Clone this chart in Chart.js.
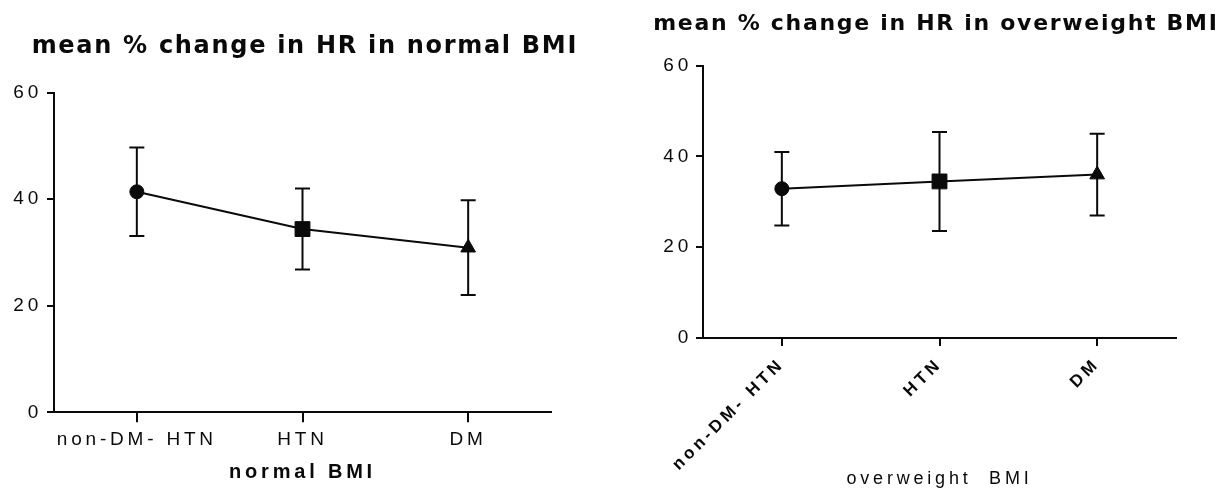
<!DOCTYPE html>
<html>
<head>
<meta charset="utf-8">
<script src="https://cdn.jsdelivr.net/npm/chart.js@4.4.1/dist/chart.umd.min.js"></script>
<style>
  html, body { margin: 0; padding: 0; background: #fff; }
  #page { position: relative; width: 1230px; height: 490px; overflow: hidden; }
  .panel { position: absolute; top: 0; }
</style>
</head>
<body>
<div id="page">
  <div class="panel" style="left:0"><canvas id="normalChart" width="608" height="490"></canvas></div>
  <div class="panel" style="left:640px"><canvas id="overChart" width="590" height="490"></canvas></div>
</div>
<script>
// data (mean % change in HR, +/- SD)
const categories = ['non-DM- HTN', 'HTN', 'DM'];
const normalMean = [41.4, 34.4, 30.9];
const normalSD = [8.3, 7.6, 8.9];
const overMean = [32.9, 34.5, 36.0];
const overSD = [8.1, 10.9, 9.0];
const yTicks = [0, 20, 40, 60];
const markerStyles = ['circle', 'rect', 'triangle'];
const markerSizes = [7, 10.5, 8.5];

const INK = '#0a0a0a';
const FONT = '"Liberation Sans", Arial, sans-serif';
const TITLE_FONT = '"DejaVu Sans", sans-serif';

// old-style wide lettering for axis texts
const spacing = {
  id: 'spacing',
  beforeDraw(chart, args, opts) { chart.ctx.letterSpacing = opts.px + 'px'; },
  afterDraw(chart) { chart.ctx.letterSpacing = '0px'; }
};

// panel heading, centred on the whole canvas (not the padded box)
const panelTitle = {
  id: 'panelTitle',
  afterDraw(chart, args, opts) {
    const ctx = chart.ctx;
    ctx.save();
    ctx.letterSpacing = opts.spacing + 'px';
    ctx.font = 'bold ' + opts.size + 'px ' + TITLE_FONT;
    ctx.fillStyle = INK;
    ctx.textAlign = 'center';
    ctx.textBaseline = 'middle';
    ctx.fillText(opts.text, chart.width / 2 + opts.spacing / 2, opts.y);
    ctx.restore();
  }
};

// vertical SD bars with caps, drawn under the markers
const errorBars = {
  id: 'errorBars',
  beforeDatasetsDraw(chart) {
    const ctx = chart.ctx;
    const x = chart.scales.x, y = chart.scales.y;
    const ds = chart.data.datasets[0];
    ctx.save();
    ctx.strokeStyle = INK;
    ctx.lineWidth = 2;
    ds.data.forEach((m, i) => {
      const px = x.getPixelForValue(i);
      const top = y.getPixelForValue(m + ds.sd[i]);
      const bot = y.getPixelForValue(m - ds.sd[i]);
      ctx.beginPath();
      ctx.moveTo(px, top); ctx.lineTo(px, bot);
      ctx.moveTo(px - 7.5, top); ctx.lineTo(px + 7.5, top);
      ctx.moveTo(px - 7.5, bot); ctx.lineTo(px + 7.5, bot);
      ctx.stroke();
    });
    ctx.restore();
  }
};

function makeChart(id, o) {
  return new Chart(document.getElementById(id), {
    type: 'line',
    data: {
      labels: categories,
      datasets: [{
        data: o.mean,
        sd: o.sd,
        borderColor: INK,
        borderWidth: 2,
        tension: 0,
        pointStyle: markerStyles,
        pointRadius: markerSizes,
        pointBackgroundColor: INK,
        pointBorderColor: INK,
        pointBorderWidth: 1
      }]
    },
    options: {
      responsive: false,
      animation: false,
      layout: { padding: o.padding },
      plugins: {
        legend: { display: false },
        tooltip: { enabled: false },
        title: { display: false },
        spacing: { px: o.letter },
        panelTitle: { text: o.title, size: o.titleSize, y: o.titleY, spacing: 1.7 }
      },
      scales: {
        x: {
          type: 'category',
          offset: true,
          grid: { display: true, offset: false, drawOnChartArea: false, drawTicks: true, tickLength: o.xTickLen, color: INK, lineWidth: 2 },
          border: { display: true, color: INK, width: 2 },
          ticks: { color: INK, font: o.xTickFont, padding: o.xTickPad, minRotation: o.rot, maxRotation: o.rot, autoSkip: false },
          title: { display: true, text: o.xTitle, color: INK, font: o.xTitleFont, padding: { top: 0, bottom: o.xTitlePad } },
          afterFit: s => { s.height = o.xHeight; }
        },
        y: {
          min: 0,
          max: 60,
          afterBuildTicks: s => { s.ticks = yTicks.map(v => ({ value: v })); },
          grid: { display: true, drawOnChartArea: false, drawTicks: true, tickLength: 7, color: INK, lineWidth: 2 },
          border: { display: true, color: INK, width: 2 },
          ticks: { color: INK, font: { family: FONT, size: 19 }, padding: o.yTickPad },
          afterFit: s => { s.width = o.yWidth; }
        }
      }
    },
    plugins: [spacing, errorBars, panelTitle]
  });
}

makeChart('normalChart', {
  mean: normalMean, sd: normalSD,
  title: 'mean % change in HR in normal BMI',
  titleSize: 24, titleY: 46.4,
  letter: 3.8,
  padding: { left: 0, right: 57, top: 92.7, bottom: 0 },
  yWidth: 54, yTickPad: 5,
  xHeight: 77.7, xTickLen: 10, xTickPad: 6, rot: 0,
  xTickFont: { family: FONT, size: 19 },
  xTitle: 'normal BMI',
  xTitleFont: { family: FONT, size: 20, weight: 'bold', lineHeight: 1.2 },
  xTitlePad: 6
});

makeChart('overChart', {
  mean: overMean, sd: overSD,
  title: 'mean % change in HR in overweight BMI',
  titleSize: 22, titleY: 24,
  letter: 3.8,
  padding: { left: 0, right: 54, top: 65.7, bottom: 0 },
  yWidth: 63, yTickPad: 4,
  xHeight: 152, xTickLen: 8, xTickPad: 8, rot: 45,
  xTickFont: { family: FONT, size: 17, weight: 'bold' },
  xTitle: 'overweight  BMI',
  xTitleFont: { family: FONT, size: 18, lineHeight: 1.2 },
  xTitlePad: 0
});
</script>
</body>
</html>
